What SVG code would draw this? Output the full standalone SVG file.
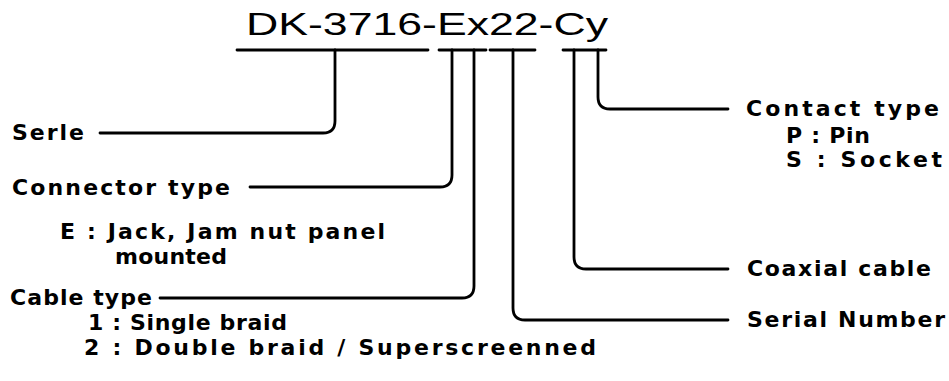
<svg xmlns="http://www.w3.org/2000/svg" width="949" height="381" viewBox="0 0 949 381">
<style>
.t{font-family:"DejaVu Sans","Liberation Sans",sans-serif;font-weight:bold;font-size:22px;fill:#000}
.title{font-family:"Liberation Sans",Arial,sans-serif;font-size:31px;fill:#000}
.ln{fill:none;stroke:#000;stroke-width:2.8;stroke-linecap:round;stroke-linejoin:round}
</style>
<rect width="949" height="381" fill="#fff"/>
<g id="code"><text class="title" x="246" y="35" textLength="362" lengthAdjust="spacingAndGlyphs">DK-3716-Ex22-Cy</text></g>
<g id="connectors">
<path class="ln" d="M237 50H428M439 50H486M490 50H535M563 50H606"/>
<path class="ln" d="M335 50V121Q335 133 323 133H100"/>
<path class="ln" d="M452 50V175Q452 187 440 187H250"/>
<path class="ln" d="M474 50V286Q474 298 462 298H160"/>
<path class="ln" d="M513 50V308Q513 320 525 320H728"/>
<path class="ln" d="M574 50V257Q574 269 586 269H728"/>
<path class="ln" d="M598 50V97Q598 109 610 109H728"/>
</g>
<g id="serie"><text class="t" x="12" y="140" textLength="72">Serle</text></g>
<g id="connector-type">
<text class="t" x="12" y="195" textLength="218">Connector type</text>
<text class="t" x="60" y="239" textLength="325">E : Jack, Jam nut panel</text>
<text class="t" x="115" y="264" textLength="112">mounted</text>
</g>
<g id="cable-type">
<text class="t" x="10" y="305" textLength="142">Cable type</text>
<text class="t" x="88" y="330" textLength="199">1 : Single braid</text>
<text class="t" x="84" y="355" textLength="512">2 : Double braid / Superscreenned</text>
</g>
<g id="contact-type">
<text class="t" x="746" y="116" textLength="193">Contact type</text>
<text class="t" x="786" y="143" textLength="84">P : Pin</text>
<text class="t" x="786" y="167" textLength="156">S : Socket</text>
</g>
<g id="coaxial-cable"><text class="t" x="747" y="276" textLength="184">Coaxial cable</text></g>
<g id="serial-number"><text class="t" x="747" y="327" textLength="198">Serial Number</text></g>
</svg>
